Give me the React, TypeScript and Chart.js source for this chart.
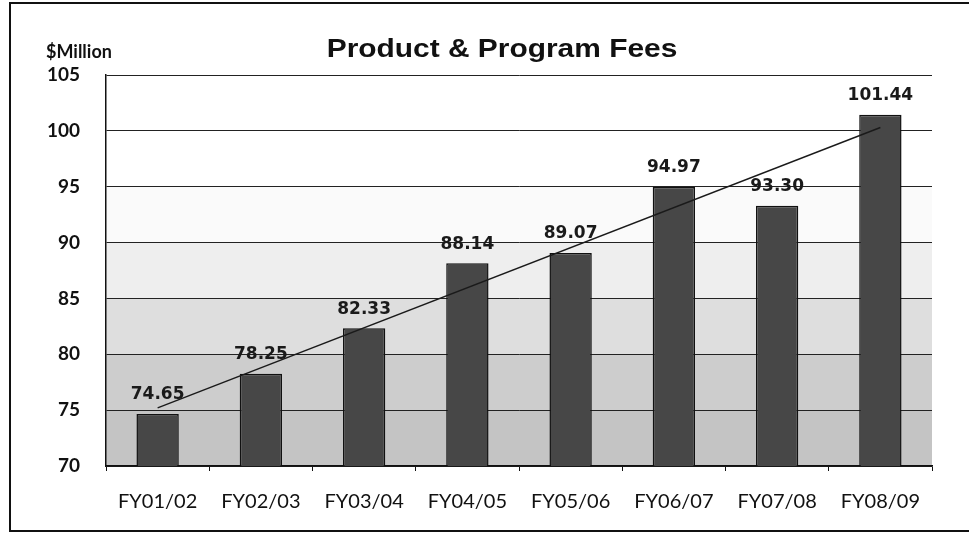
import React, { useEffect, useRef } from "react";
import { Chart, registerables } from "chart.js";

Chart.register(...registerables);

const categories = ["FY01/02", "FY02/03", "FY03/04", "FY04/05", "FY05/06", "FY06/07", "FY07/08", "FY08/09"];
const fees = [74.65, 78.25, 82.33, 88.14, 89.07, 94.97, 93.3, 101.44];
const trend = [75.2, null, null, null, null, null, null, 100.3];
const yMin = 70;
const yMax = 105;
const yStep = 5;
const bandEdges = [70, 75, 80, 85, 90, 95];
const bandColors = ["#c4c4c4", "#cdcdcd", "#dedede", "#eeeeee", "#fafafa"];
const titleText = "Product & Program Fees";
const unitText = "$Million";

const bandsPlugin = {
  id: "bands",
  beforeDraw(chart: any) {
    const { ctx, chartArea, scales } = chart;
    const y = scales.y;
    ctx.save();
    ctx.fillStyle = "#ffffff";
    ctx.fillRect(0, 0, chart.width, chart.height);
    for (let i = 0; i < bandColors.length; i++) {
      const top = y.getPixelForValue(bandEdges[i + 1]);
      const bot = y.getPixelForValue(bandEdges[i]);
      ctx.fillStyle = bandColors[i];
      ctx.fillRect(chartArea.left, top, chartArea.right - chartArea.left, bot - top);
    }
    ctx.restore();
  },
};

const decorPlugin = {
  id: "decor",
  afterDraw(chart: any) {
    const { ctx } = chart;
    ctx.save();
    // outer frame
    ctx.strokeStyle = "#111";
    ctx.lineWidth = 2;
    ctx.beginPath();
    ctx.moveTo(969, 3);
    ctx.lineTo(10, 3);
    ctx.lineTo(10, 531);
    ctx.lineTo(969, 531);
    ctx.stroke();
    // title
    ctx.fillStyle = "#111";
    ctx.save();
    ctx.translate(502, 57);
    ctx.scale(1.15, 1);
    ctx.font = 'bold 26px "Liberation Sans", Arial, sans-serif';
    ctx.textAlign = "center";
    ctx.textBaseline = "alphabetic";
    ctx.fillText(titleText, 0, 0);
    ctx.restore();
    // unit
    ctx.font = 'bold 18px Lato, sans-serif';
    ctx.textAlign = "left";
    ctx.textBaseline = "middle";
    ctx.fillText(unitText, 46, 52);
    ctx.restore();
  },
  afterDatasetsDraw(chart: any) {
    const { ctx } = chart;
    const meta = chart.getDatasetMeta(0);
    ctx.save();
    ctx.fillStyle = "#1a1a1a";
    ctx.font = 'bold 17px "DejaVu Sans", sans-serif';
    ctx.textAlign = "center";
    ctx.textBaseline = "middle";
    meta.data.forEach((bar: any, i: number) => {
      ctx.fillText(fees[i].toFixed(2), bar.x, bar.y - 19);
    });
    ctx.restore();
  },
};

export default function App() {
  const ref = useRef<HTMLCanvasElement>(null);
  useEffect(() => {
    document.body.style.margin = "0";
    const chart = new Chart(ref.current as HTMLCanvasElement, {
      type: "bar",
      data: {
        labels: categories,
        datasets: [
          {
            type: "bar",
            data: fees,
            backgroundColor: "#474747",
            borderColor: "#111",
            borderWidth: 1.5,
            barPercentage: 0.41,
            categoryPercentage: 1,
            order: 2,
          },
          {
            type: "line",
            data: trend as any,
            borderColor: "#1a1a1a",
            borderWidth: 1.4,
            pointRadius: 0,
            spanGaps: true,
            tension: 0,
            order: 1,
          },
        ],
      },
      options: {
        responsive: false,
        animation: false,
        layout: { padding: { top: 75, right: 37, left: 0, bottom: 0 } },
        plugins: { legend: { display: false }, tooltip: { enabled: false }, title: { display: false } },
        scales: {
          x: {
            grid: { offset: true, drawOnChartArea: false, drawTicks: true, tickLength: 5, color: "#111" },
            border: { display: true, color: "#111", width: 1.5 },
            ticks: { color: "#111", padding: 19, font: { family: "Lato", size: 20 } },
          },
          y: {
            min: yMin,
            max: yMax,
            afterFit(scale: any) {
              scale.width = 106;
            },
            grid: { color: "#222", lineWidth: 1, drawTicks: false },
            border: { display: true, color: "#111", width: 1.5 },
            ticks: { stepSize: yStep, color: "#111", padding: 26, font: { family: "Lato", size: 19, weight: "bold" } },
          },
        },
      },
      plugins: [bandsPlugin, decorPlugin],
    });
    return () => chart.destroy();
  }, []);
  return <canvas ref={ref} width={969} height={533} />;
}
